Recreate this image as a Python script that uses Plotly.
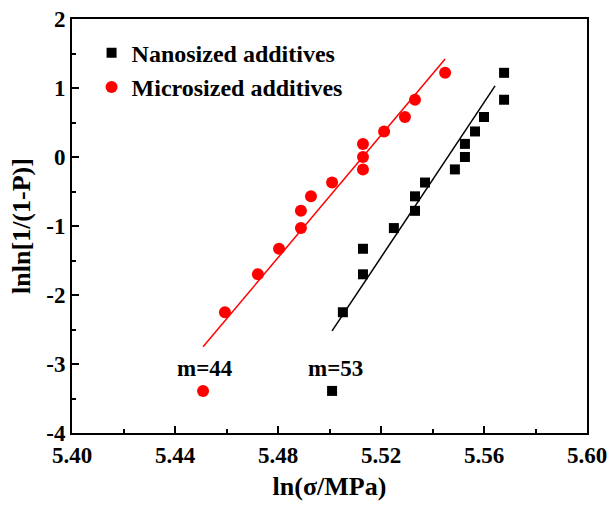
import plotly.graph_objects as go

# Data
nano_x = [5.5010, 5.5052, 5.5130, 5.5130, 5.5250, 5.5332, 5.5332, 5.5371,
          5.5487, 5.5526, 5.5526, 5.5565, 5.5600, 5.5678, 5.5678]
nano_y = [-3.39, -2.25, -1.70, -1.33, -1.03, -0.78, -0.57, -0.37,
          -0.18, 0.00, 0.19, 0.37, 0.58, 0.83, 1.22]
micro_x = [5.4509, 5.4594, 5.4722, 5.4804, 5.4889, 5.4889, 5.4928, 5.5010,
           5.5130, 5.5130, 5.5130, 5.5212, 5.5293, 5.5332, 5.5449]
micro_y = [-3.39, -2.25, -1.70, -1.33, -1.03, -0.78, -0.57, -0.37,
           -0.18, 0.00, 0.19, 0.37, 0.58, 0.83, 1.22]

fit_nano_x = [5.5010, 5.5643]
fit_nano_y = [-2.52, 1.03]
fit_micro_x = [5.4509, 5.5449]
fit_micro_y = [-2.75, 1.42]

label_text = ["m=44", "m=53"]
label_x = [5.4515, 5.5022]
label_y = [-3.06, -3.06]

x_ticks = [5.40, 5.44, 5.48, 5.52, 5.56, 5.60]
y_ticks = [-4, -3, -2, -1, 0, 1, 2]

FONT = "Liberation Serif"

fig = go.Figure()
fig.add_trace(go.Scatter(x=fit_micro_x, y=fit_micro_y, mode="lines",
                         line=dict(color="#ff0000", width=1.5), showlegend=False))
fig.add_trace(go.Scatter(x=fit_nano_x, y=fit_nano_y, mode="lines",
                         line=dict(color="#000000", width=1.5), showlegend=False))
fig.add_trace(go.Scatter(x=nano_x, y=nano_y, mode="markers", name="Nanosized additives",
                         marker=dict(symbol="square", size=10, color="#000000")))
fig.add_trace(go.Scatter(x=micro_x, y=micro_y, mode="markers", name="Microsized additives",
                         marker=dict(symbol="circle", size=12, color="#ff0000")))

for t, x, y in zip(label_text, label_x, label_y):
    fig.add_annotation(x=x, y=y, text=t, showarrow=False,
                       font=dict(family=FONT, size=23, color="#000000", weight="bold"))

axis_common = dict(
    showline=True, linecolor="#000000", linewidth=2, mirror=True,
    ticks="inside", ticklen=7, tickwidth=2, tickcolor="#000000",
    showgrid=False, zeroline=False, automargin=False,
    tickfont=dict(family=FONT, size=23, color="#000000", weight="bold"),
)

fig.update_xaxes(
    range=[5.40, 5.60], tickmode="array", tickvals=x_ticks,
    ticktext=["%.2f" % v for v in x_ticks],
    minor=dict(dtick=0.02, tick0=5.40, ticks="inside", ticklen=4, tickwidth=2,
               tickcolor="#000000", showgrid=False),
    title=dict(text="ln(σ/MPa)", font=dict(family=FONT, size=26, color="#000000", weight="bold"),
               standoff=10),
    **axis_common,
)
fig.update_yaxes(
    range=[-4, 2], tickmode="array", tickvals=y_ticks,
    ticktext=["%d" % v for v in y_ticks],
    minor=dict(dtick=0.5, tick0=-4, ticks="inside", ticklen=4, tickwidth=2,
               tickcolor="#000000", showgrid=False),
    title=dict(text="lnln[1/(1-P)]", font=dict(family=FONT, size=26, color="#000000", weight="bold"),
               standoff=8),
    **axis_common,
)

fig.update_layout(
    width=610, height=507,
    margin=dict(l=72, r=23, t=19, b=74),
    plot_bgcolor="#ffffff", paper_bgcolor="#ffffff",
    legend=dict(x=0.038, y=0.972, xanchor="left", yanchor="top",
                bgcolor="rgba(0,0,0,0)", borderwidth=0,
                font=dict(family=FONT, size=24, color="#000000", weight="bold"),
                itemsizing="trace"),
)

fig.write_html("out.html", config={"displayModeBar": False},
               post_script="document.body.style.margin='0';document.body.style.padding='0';")
